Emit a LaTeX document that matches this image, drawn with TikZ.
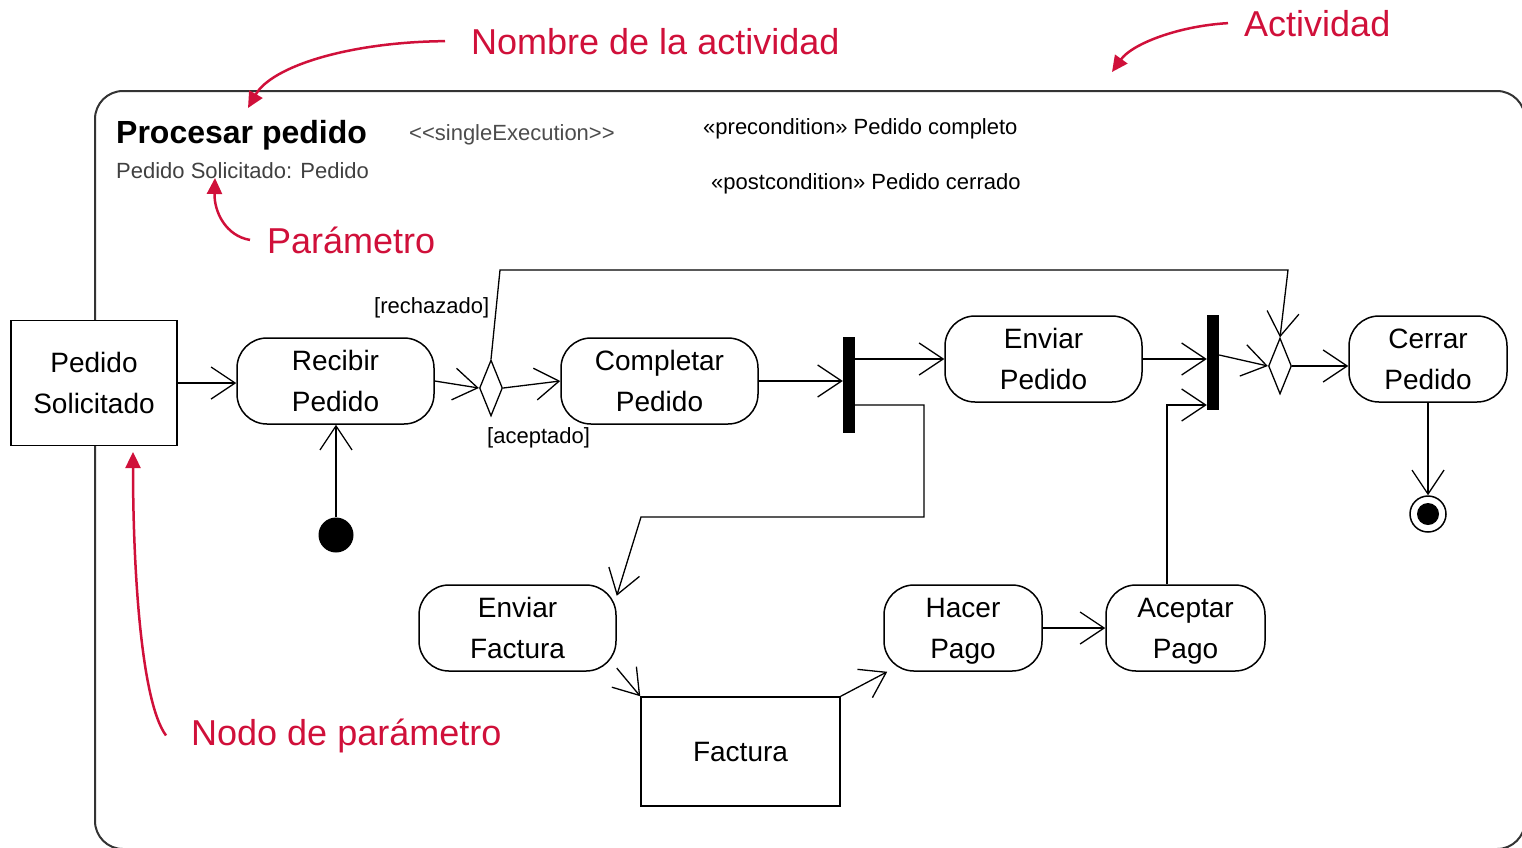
\documentclass[tikz,border=0pt]{standalone}
\usepackage{fontspec}
\setmainfont{Liberation Sans}
\usetikzlibrary{shapes.geometric,arrows.meta,positioning}
\definecolor{rojo}{RGB}{208,16,58}
\tikzset{act/.style={draw,line width=1.5pt,rounded corners=30pt,align=center,font=\fontsize{28}{41}\selectfont,minimum width=197pt,minimum height=86pt,inner sep=0pt},
 obj/.style={draw,line width=1.5pt,fill=white,align=center,font=\fontsize{28}{41}\selectfont,inner sep=0pt},
 bar/.style={fill=black,minimum width=12pt,inner sep=0pt},
 dec/.style={draw,diamond,line width=1.3pt,minimum width=23pt,minimum height=56pt,inner sep=0pt},
 ar/.style={line width=1.3pt,-{Straight Barb[length=24pt,width=32pt,line width=1.3pt]}},
 txt/.style={font=\fontsize{22}{26}\selectfont,anchor=base west,inner sep=0pt},
 nota/.style={text=rojo,font=\fontsize{36}{40}\selectfont,anchor=base west,inner sep=0pt},
 rar/.style={rojo,line width=2.5pt,-{Triangle[length=16pt,width=15pt]}}}
\begin{document}
\begin{tikzpicture}[x=1pt,y=-1pt]
\useasboundingbox (0,0) rectangle (1522,847);\clip (0,0) rectangle (1522,847);
\draw[line width=2pt,black!80,rounded corners=28pt] (95,91) rectangle (1525,849);
% cabecera
\node[txt,font=\bfseries\fontsize{32}{36}\selectfont](nom) at (116,143){Procesar pedido};
\node[txt,text=black!75](par) at (116,178){Pedido Solicitado: Pedido};
\node[txt,text=black!70](se) at (409,140){<\kern0pt<singleExecution>\kern0pt>};
\node[txt](pre) at (703,134){«precondition» Pedido completo};
\node[txt](post) at (711,189){«postcondition» Pedido cerrado};
% nodos
\node[obj,minimum width=166pt,minimum height=125pt](ps) at (94,383){Pedido\\Solicitado};
\node[act](rp) at (335.5,381){Recibir\\Pedido};\node[dec](d1) at (491,388){};
\node[act](cp) at (659.5,381){Completar\\Pedido};\node[bar,minimum height=96pt](f1) at (849,385){};
\node[act](ep) at (1043.5,359){Enviar\\Pedido};\node[bar,minimum height=95pt](j1) at (1213,362.5){};
\node[dec](d2) at (1280,366){};\node[act,minimum width=158pt](cr) at (1428,359){Cerrar\\Pedido};
\node[circle,draw,line width=1.5pt,minimum size=36pt,inner sep=0pt](fin) at (1428,514){};\fill (fin) circle (11);
\node[circle,fill,minimum size=35pt,inner sep=0pt](ini) at (336,535){};
\node[act](ef) at (517.5,628){Enviar\\Factura};\node[obj,minimum width=199pt,minimum height=109pt](fa) at (740.5,751.5){Factura};
\node[act,minimum width=158pt](hp) at (963,628){Hacer\\Pa\smash{g}o};\node[act,minimum width=159pt](ap) at (1185.5,628){Aceptar\\Pa\smash{g}o};
\node[txt](rz) at (374,313){[rechazado]};\node[txt](ac) at (487,443){[aceptado]};
% flujos
\draw[ar](ps.east)--(ps.east-|rp.west);\draw[ar](ini.north)--(ini.north|-rp.south);\draw[ar](rp.east)--(d1.west);
\draw[ar](d1.east)--(cp.west);\draw[ar](d1.north)--(500,270)--(1288,270)--(d2.north);
\draw[ar](cp.east)--(cp.east-|f1.west);\draw[ar](ep.west-|f1.east)--(ep.west);
\draw[ar]([yshift=-20pt]f1.east)-|(924,517)--(641,517)--(ef.18);
\draw[ar](ep.east)--(ep.east-|j1.west);\draw[ar]([xshift=-18.5pt]ap.north)|-([yshift=-42.5pt]j1.west);
\draw[ar]([yshift=7.5pt]j1.east)--(d2.west);\draw[ar](d2.east)--(d2.east-|cr.west);\draw[ar](cr.south)--(fin.north);
\draw[ar](ef.-22)--(fa.north west);\draw[ar](fa.north east)--(hp.210);\draw[ar](hp.east)--(ap.west);
% notas
\node[nota](t1) at (471,54){Nombre de la actividad};\node[nota](t2) at (1244,36){Actividad};
\node[nota](t3) at (267,253){Parámetro};\node[nota](t4) at (191,745){Nodo de parámetro};
\coordinate(p1) at (248,108);\coordinate(p2) at (1112,72);\coordinate(p3) at (215,178);\coordinate(p4) at (133,452);
\draw[rar]([xshift=-26pt]t1.west)..controls (350,42) and (272,66)..(p1);
\draw[rar]([xshift=-16pt]t2.west)..controls (1178,26) and (1132,44)..(p2);
\draw[rar]([xshift=-17pt]t3.west)..controls (226,236) and (214,212)..(p3);
\draw[rar]([xshift=-25pt]t4.west)..controls (140,700) and (133,560)..(p4);
\end{tikzpicture}
\end{document}
